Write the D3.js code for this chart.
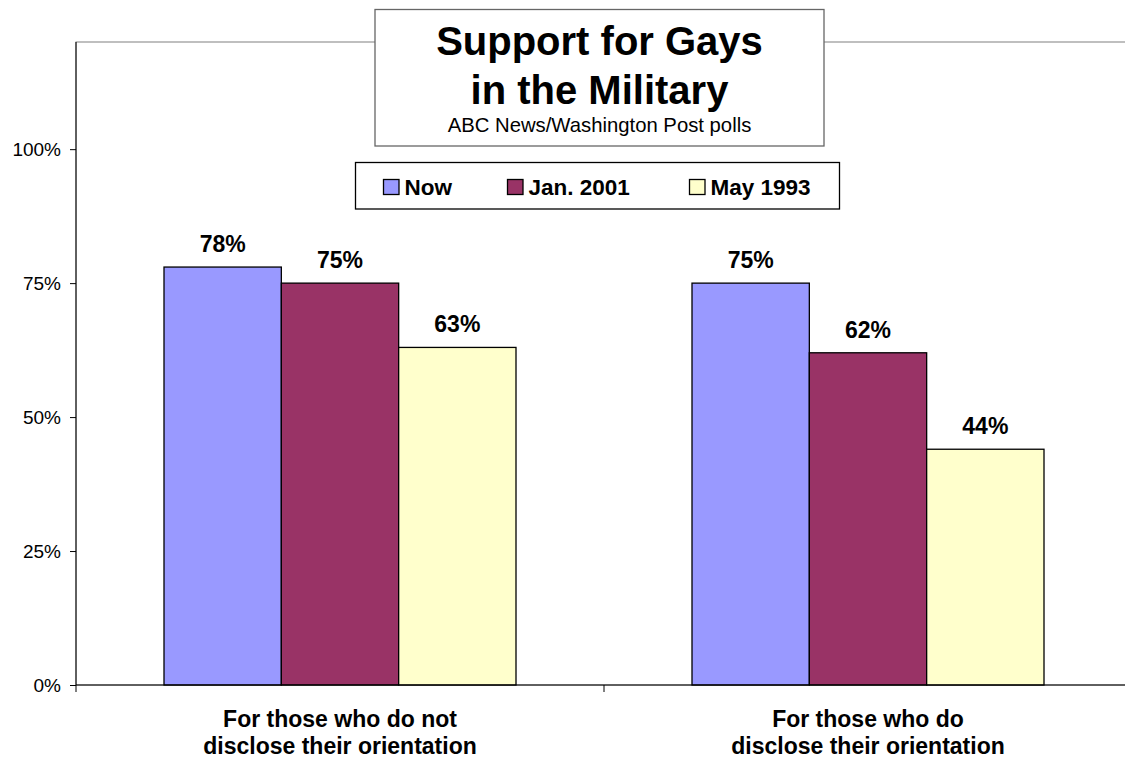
<!DOCTYPE html>
<html>
<head>
<meta charset="utf-8">
<script src="https://cdn.jsdelivr.net/npm/d3@7"></script>
<style>
  html, body { margin: 0; padding: 0; background: #fff; }
  svg { display: block; font-family: "Liberation Sans", Arial, Helvetica, sans-serif; }
</style>
</head>
<body>
<svg id="chart" width="1125" height="759"></svg>
<script>
// ---- data ----
const categories = ["For those who do not|disclose their orientation", "For those who do|disclose their orientation"];
const seriesNames = ["Now", "Jan. 2001", "May 1993"];
const seriesColors = ["#9999FF", "#993366", "#FFFFCC"];
const nowValues = [78, 75];
const jan2001Values = [75, 62];
const may1993Values = [63, 44];
const yTicks = [0, 25, 50, 75, 100];
const titleLines = ["Support for Gays", "in the Military"];
const subtitle = "ABC News/Washington Post polls";

const seriesValues = [nowValues, jan2001Values, may1993Values];

// ---- layout ----
const svg = d3.select("#chart");
const pLeft = 76, pRight = 1132, pTop = 42, pBottom = 685;

const y = d3.scaleLinear().domain([0, 120]).range([pBottom, pTop]);
const x0 = d3.scaleBand().domain(categories).range([pLeft, pRight]).padding(0);
const x1 = d3.scaleBand().domain(seriesNames).range([0, x0.bandwidth()])
  .paddingInner(0).paddingOuter(0.75);

// plot area border
svg.append("rect")
  .attr("x", pLeft).attr("y", pTop)
  .attr("width", pRight - pLeft).attr("height", pBottom - pTop)
  .attr("fill", "#fff").attr("stroke", "#808080").attr("stroke-width", 1);

// bars
const groups = svg.append("g").selectAll("g")
  .data(categories).join("g")
  .attr("transform", d => `translate(${x0(d)},0)`);

groups.each(function(cat, ci) {
  const g = d3.select(this);
  seriesNames.forEach((s, si) => {
    const v = seriesValues[si][ci];
    g.append("rect")
      .attr("x", x1(s)).attr("y", y(v))
      .attr("width", x1.bandwidth()).attr("height", y(0) - y(v))
      .attr("fill", seriesColors[si])
      .attr("stroke", "#000").attr("stroke-width", 1.3);
    g.append("text")
      .attr("x", x1(s) + x1.bandwidth() / 2)
      .attr("y", y(v) - 15)
      .attr("text-anchor", "middle")
      .attr("font-size", 23).attr("font-weight", "bold")
      .attr("fill", "#000")
      .text(v + "%");
  });
});

// y axis
const yAxis = d3.axisLeft(y).tickValues(yTicks).tickSize(6).tickPadding(9)
  .tickFormat(d => d + "%");
const yg = svg.append("g").attr("transform", `translate(${pLeft},0)`).call(yAxis);
yg.select(".domain").attr("stroke", "#000").attr("d", `M0,${pTop}V${pBottom}`);
yg.selectAll(".tick line").attr("stroke", "#000");
yg.selectAll(".tick text").attr("font-size", 19).attr("fill", "#000")
  .attr("font-family", "\"Liberation Sans\", Arial, sans-serif");

// x axis
const xg = svg.append("g").attr("transform", `translate(0,${pBottom})`);
xg.append("line").attr("x1", pLeft).attr("x2", pRight).attr("y1", 0).attr("y2", 0)
  .attr("stroke", "#000").attr("stroke-width", 1);
const boundaries = categories.map(c => x0(c)).concat([x0(categories[categories.length - 1]) + x0.bandwidth()]);
xg.selectAll("line.tk").data(boundaries).join("line")
  .attr("class", "tk")
  .attr("x1", d => d).attr("x2", d => d).attr("y1", 0).attr("y2", 7)
  .attr("stroke", "#000");
xg.selectAll("text.cat").data(categories).join("text")
  .attr("class", "cat")
  .attr("text-anchor", "middle")
  .attr("font-size", 23).attr("font-weight", "bold").attr("fill", "#000")
  .each(function(d) {
    const t = d3.select(this);
    const cx = x0(d) + x0.bandwidth() / 2;
    d.split("|").forEach((line, i) => {
      t.append("tspan").attr("x", cx).attr("y", 42 + i * 27).text(line);
    });
  });

// title box
const tbx = 375, tby = 9.5, tbw = 449, tbh = 136.5;
svg.append("rect")
  .attr("x", tbx).attr("y", tby).attr("width", tbw).attr("height", tbh)
  .attr("fill", "#fff").attr("stroke", "#666").attr("stroke-width", 1.3);
titleLines.forEach((t, i) => {
  svg.append("text")
    .attr("x", tbx + tbw / 2).attr("y", 55 + i * 49)
    .attr("text-anchor", "middle")
    .attr("font-size", 40).attr("font-weight", "bold").attr("fill", "#000")
    .text(t);
});
svg.append("text")
  .attr("x", tbx + tbw / 2).attr("y", 131.5)
  .attr("text-anchor", "middle")
  .attr("font-size", 20.3).attr("fill", "#000")
  .text(subtitle);

// legend
const lbx = 355.5, lby = 162.5, lbw = 484, lbh = 46.5;
svg.append("rect")
  .attr("x", lbx).attr("y", lby).attr("width", lbw).attr("height", lbh)
  .attr("fill", "#fff").attr("stroke", "#000").attr("stroke-width", 1.3);
const legendOffsets = [28, 152, 334];
seriesNames.forEach((s, i) => {
  const lx = lbx + legendOffsets[i];
  svg.append("rect")
    .attr("x", lx).attr("y", 179.5).attr("width", 15.5).attr("height", 15)
    .attr("fill", seriesColors[i]).attr("stroke", "#000").attr("stroke-width", 1.3);
  svg.append("text")
    .attr("x", lx + 21).attr("y", 194.5)
    .attr("font-size", 22.5).attr("font-weight", "bold").attr("fill", "#000")
    .text(s);
});
</script>
</body>
</html>
